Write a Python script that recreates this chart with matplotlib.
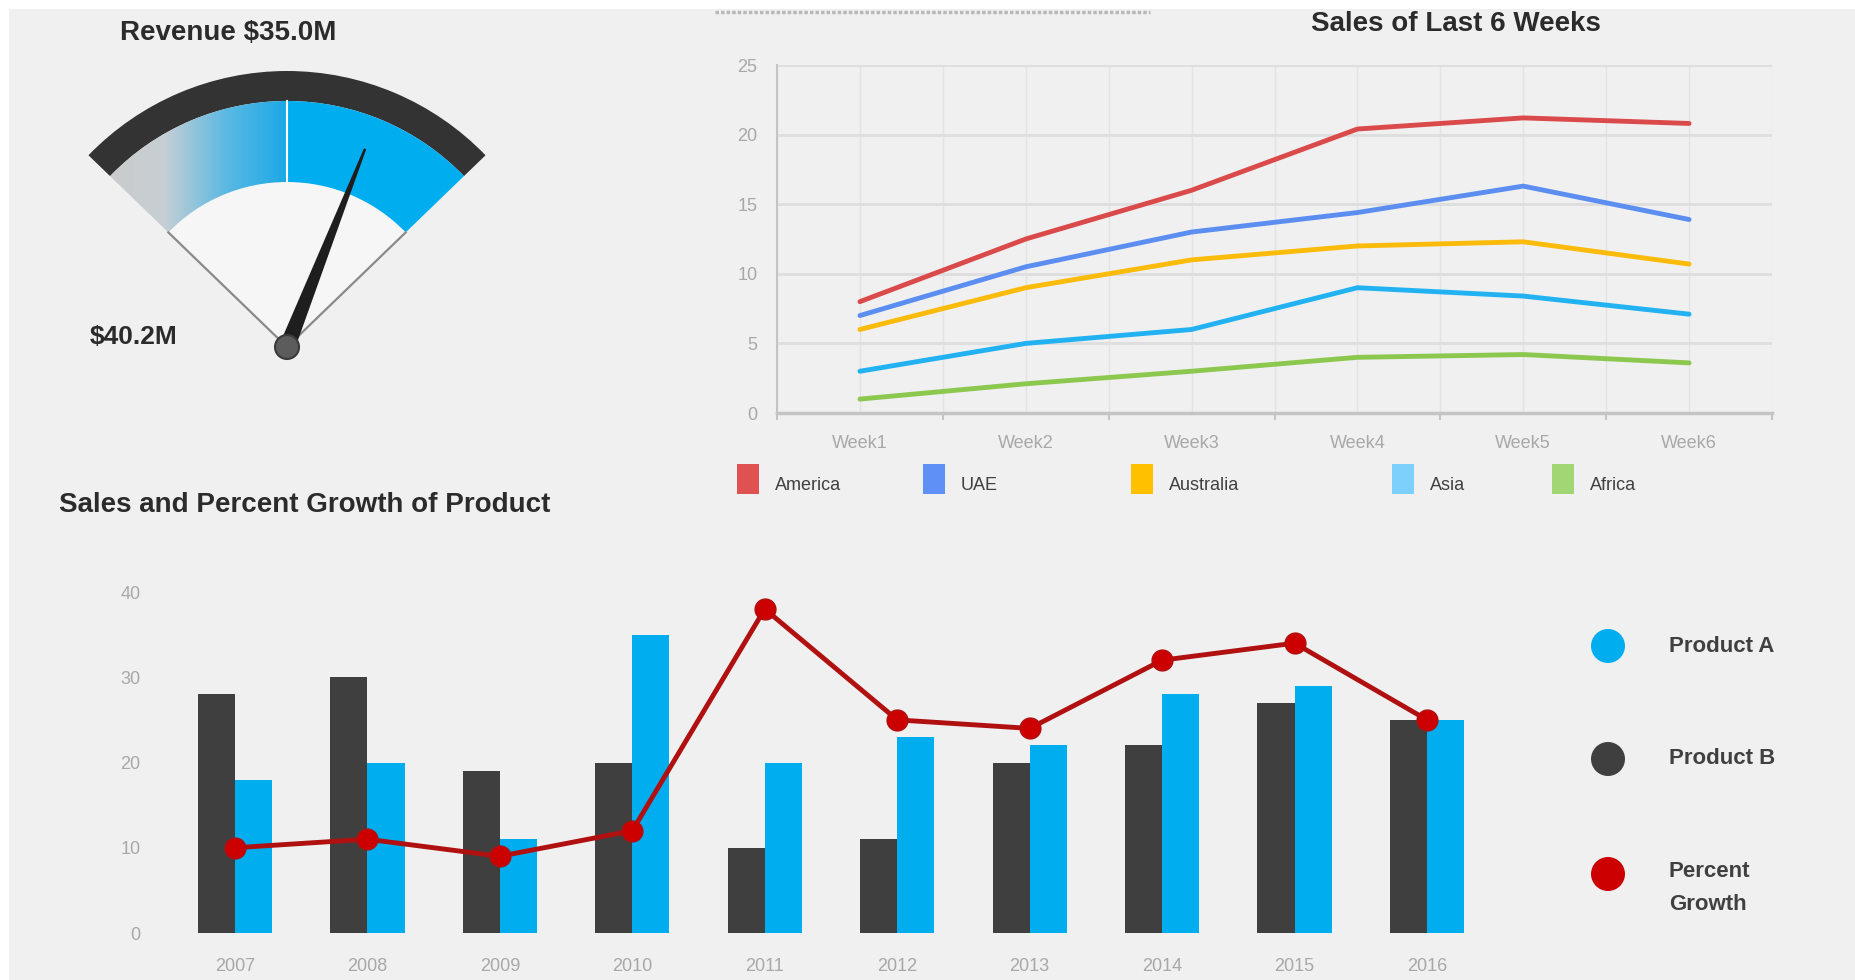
import numpy as np
import matplotlib
matplotlib.use("Agg")
import matplotlib.pyplot as plt
from matplotlib.patches import Wedge, Rectangle, Circle, Polygon
from matplotlib.colors import LinearSegmentedColormap

plt.rcParams['font.family'] = ['Liberation Sans', 'DejaVu Sans']

# gauge
revenue = 35.0
target_label = "$40.2M"
gauge_max = 47.7

# sales of last 6 weeks
weeks = ["Week1", "Week2", "Week3", "Week4", "Week5", "Week6"]
regions = ["America", "UAE", "Australia", "Asia", "Africa"]
america = [8.0, 12.5, 16.0, 20.4, 21.2, 20.8]
uae = [7.0, 10.5, 13.0, 14.4, 16.3, 13.9]
australia = [6.0, 9.0, 11.0, 12.0, 12.3, 10.7]
asia = [3.0, 5.0, 6.0, 9.0, 8.4, 7.1]
africa = [1.0, 2.1, 3.0, 4.0, 4.2, 3.6]
line_colors = ["#db4a4a", "#5b8ef0", "#fbbb0b", "#22b2f2", "#8cc84e"]
patch_colors = ["#e05252", "#5f90f5", "#ffc000", "#7dd0fb", "#a2d675"]

# sales and percent growth
years = ["2007", "2008", "2009", "2010", "2011", "2012", "2013", "2014", "2015", "2016"]
product_a = [18, 20, 11, 35, 20, 23, 22, 28, 29, 25]
product_b = [28, 30, 19, 20, 10, 11, 20, 22, 27, 25]
growth = [10, 11, 9, 12, 38, 25, 24, 32, 34, 25]

W, H = 1855, 980
fig = plt.figure(figsize=(W / 100, H / 100), dpi=100, facecolor="white")


def fx(px):
    return px / W


def fy(py):
    return (H - py) / H


# background canvas in pixel units (y measured from top)
bg = fig.add_axes([0, 0, 1, 1], zorder=0)
bg.set_xlim(0, W)
bg.set_ylim(0, H)
bg.axis("off")
bg.add_patch(Rectangle((9, 0), W - 9, H - 9, color="#f0f0f0", lw=0))
bg.plot([715, 1150], [H - 12, H - 12], color="#b8b8b8", lw=2.5, ls=(0, (1, 0.6)))

# ---- gauge ----
cx, cy = 287, H - 347
r_out, r_dark, r_in = 276, 246, 165
a0, a1 = 44, 136
bg.add_patch(Wedge((cx, cy), r_in, a0, a1, color="#f6f6f6", lw=0))
bg.add_patch(Wedge((cx, cy), r_out, a0, a1, width=r_out - r_dark, color="#333333", lw=0))
bg.add_patch(Wedge((cx, cy), r_dark, a0, 90, width=r_dark - r_in, color="#00aeef", lw=0))
left_band = Wedge((cx, cy), r_dark, 90, a1, width=r_dark - r_in, color="none", lw=0)
bg.add_patch(left_band)
grad_cmap = LinearSegmentedColormap.from_list("g", ["#cbcbcb", "#c6cfd4", "#5bb9e3", "#1aa8e6"])
grad = np.linspace(0, 1, 256).reshape(1, -1)
im = bg.imshow(grad, cmap=grad_cmap, extent=[cx - r_dark * 0.75, cx, cy, cy + r_dark],
               aspect="auto", zorder=2)
im.set_clip_path(left_band)
bg.plot([cx, cx], [cy + r_in, cy + r_dark], color="white", lw=1.5, zorder=3)
for a in (a0, a1):
    t = np.radians(a)
    bg.plot([cx, cx + r_in * np.cos(t)], [cy, cy + r_in * np.sin(t)], color="#8a8a8a", lw=1.6, zorder=3)

theta = np.radians(a1 - revenue / gauge_max * (a1 - a0))
nl = 213
d = np.array([np.cos(theta), np.sin(theta)])
n = np.array([-d[1], d[0]])
c = np.array([cx, cy])
needle = [c + n * 8, c + d * nl + n * 1.2, c + d * nl - n * 1.2, c - n * 8]
bg.add_patch(Polygon(needle, closed=True, color="#1e1e1e", lw=0, zorder=4))
bg.add_patch(Circle((cx, cy), 12, facecolor="#5c5c5c", edgecolor="#3a3a3a", lw=1.5, zorder=5))

fig.text(fx(228), fy(33), f"Revenue ${revenue:.1f}M", ha="center", va="center",
         fontsize=20, fontweight="bold", color="#2b2b2b")
fig.text(fx(134), fy(337), target_label, ha="center", va="center",
         fontsize=19, fontweight="bold", color="#2b2b2b")

# ---- line chart ----
ax1 = fig.add_axes([fx(777), fy(413), fx(1772) - fx(777), fy(65) - fy(413)], zorder=1)
ax1.set_facecolor("none")
xs = np.arange(len(weeks))
for vals, col in zip([america, uae, australia, asia, africa], line_colors):
    ax1.plot(xs, vals, color=col, lw=3.5, solid_capstyle="round", zorder=3)
ax1.set_xlim(-0.5, len(weeks) - 0.5)
ax1.set_ylim(0, 25)
ax1.set_yticks([0, 5, 10, 15, 20, 25])
ax1.set_xticks(xs)
ax1.set_xticklabels(weeks)
ax1.set_xticks(np.arange(-0.5, len(weeks), 0.5), minor=True)
ax1.tick_params(axis="x", which="major", length=0, pad=16, labelsize=13, labelcolor="#a8a8a8")
ax1.tick_params(axis="x", which="minor", length=0)
ax1.tick_params(axis="y", length=0, pad=14, labelsize=13, labelcolor="#a8a8a8")
ax1.grid(axis="y", color="#dedede", lw=2)
ax1.grid(axis="x", which="both", color="#e3e3e3", lw=1)
for s in ("top", "right"):
    ax1.spines[s].set_visible(False)
ax1.spines["left"].set_color("#c4c4c4")
ax1.spines["left"].set_linewidth(1.5)
ax1.spines["bottom"].set_color("#c4c4c4")
ax1.spines["bottom"].set_linewidth(2.5)
for xb in np.arange(-0.5, len(weeks), 1.0):
    ax1.plot([xb, xb], [0, -0.45], color="#c4c4c4", lw=1.5, clip_on=False)
ax1.set_axisbelow(True)

fig.text(fx(1456), fy(24), "Sales of Last 6 Weeks", ha="center", va="center",
         fontsize=20, fontweight="bold", color="#2b2b2b")

leg_x = [737, 923, 1131, 1392, 1552]
for lx, name, col in zip(leg_x, regions, patch_colors):
    bg.add_patch(Rectangle((lx, H - 494), 22, 30, color=col, lw=0))
    bg.text(lx + 38, H - 485, name, ha="left", va="center", fontsize=13, color="#404040")

# ---- bar + line chart ----
ax2 = fig.add_axes([fx(160), fy(933), fx(1500) - fx(160), fy(592) - fy(933)], zorder=1)
ax2.set_facecolor("none")
xb = np.arange(len(years))
bw = 0.28
ax2.bar(xb - bw / 2, product_b, width=bw, color="#3f3f3f", lw=0)
ax2.bar(xb + bw / 2, product_a, width=bw, color="#00aeef", lw=0)
ax2.plot(xb, growth, color="#b01010", lw=3.5, marker="o", ms=15,
         markerfacecolor="#cc0000", markeredgecolor="#b01010", clip_on=False, zorder=4)
ax2.set_xlim(-0.566, 9.551)
ax2.set_ylim(0, 40)
ax2.set_yticks([0, 10, 20, 30, 40])
ax2.set_xticks(xb)
ax2.set_xticklabels(years)
ax2.tick_params(axis="x", length=0, pad=18, labelsize=13, labelcolor="#a8a8a8")
ax2.tick_params(axis="y", length=0, pad=14, labelsize=13, labelcolor="#a8a8a8")
for s in ax2.spines.values():
    s.set_visible(False)

fig.text(fx(59), fy(505), "Sales and Percent Growth of Product", ha="left", va="center",
         fontsize=20, fontweight="bold", color="#2b2b2b")

bar_legend = [("Product A", "#00aeef", 646), ("Product B", "#3f3f3f", 759),
              ("Percent\nGrowth", "#cc0000", 874)]
for name, col, ly in bar_legend:
    bg.add_patch(Circle((1608, H - ly), 17, color=col, lw=0))
    bg.text(1669, H - ly - (14 if "\n" in name else 0), name, ha="left", va="center",
            fontsize=16, fontweight="bold", color="#404040", linespacing=1.75)

fig.savefig("out.png", dpi=100, facecolor=fig.get_facecolor())
